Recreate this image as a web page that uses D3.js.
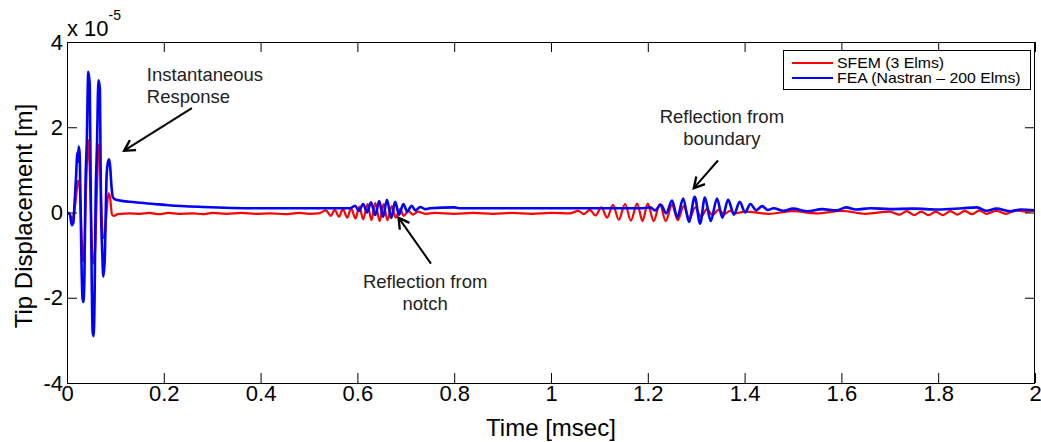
<!DOCTYPE html>
<html>
<head>
<meta charset="utf-8">
<script src="https://cdn.jsdelivr.net/npm/d3@7"></script>
<style>
  html, body { margin: 0; padding: 0; background: #fff; }
  text { font-family: Arial, "Liberation Sans", sans-serif; }
</style>
</head>
<body>
<div id="chart"></div>
<script>
// Tip displacement (units of 1e-5 m) vs time (msec)

// SFEM (3 Elms) - red
const sfemPoints = [
  [0, 0], [0.006, -0.05], [0.011, -0.15], [0.016, 0.1], [0.020, 0.5], [0.023, 0.75], [0.026, 0.6],
  [0.030, -0.5], [0.033, -1.15], [0.036, -0.8], [0.040, 0.8], [0.044, 1.7], [0.047, 1.0],
  [0.051, -0.6], [0.054, -1.2], [0.058, -0.9], [0.062, 0.6], [0.066, 1.6], [0.069, 1.0],
  [0.072, -0.2], [0.075, -0.6], [0.078, -0.55], [0.081, -0.1], [0.086, 0.45], [0.089, 0.35],
  [0.093, -0.05], [0.097, -0.08], [0.105, -0.04], [0.13, -0.02], [0.15, -0.03], [0.17, -0.01],
  [0.19, -0.04], [0.21, -0.01], [0.23, -0.03], [0.26, -0.02], [0.28, -0.04], [0.30, -0.01],
  [0.33, -0.03], [0.36, -0.01], [0.39, -0.03], [0.42, -0.02], [0.45, -0.04], [0.48, -0.01],
  [0.50, -0.03], [0.52, -0.02],
  // reflection from notch
  [0.535, 0.05], [0.545, -0.08], [0.553, 0.06], [0.562, -0.1], [0.570, 0.08], [0.579, -0.12],
  [0.587, 0.1], [0.596, -0.14], [0.604, 0.14], [0.612, -0.16], [0.621, 0.2], [0.629, -0.18],
  [0.637, 0.22], [0.646, -0.2], [0.654, 0.2], [0.662, -0.18], [0.671, 0.15], [0.679, -0.12],
  [0.688, 0.08], [0.696, -0.08], [0.705, 0.04], [0.715, -0.05], [0.725, 0.02], [0.74, -0.03],
  [0.76, -0.01], [0.80, -0.03], [0.84, -0.01], [0.88, -0.03], [0.92, -0.01], [0.96, -0.03],
  [1.00, -0.01], [1.04, -0.02],
  // reflection from boundary
  [1.056, 0.04], [1.068, -0.04], [1.080, 0.06], [1.092, -0.07], [1.104, 0.12], [1.116, -0.12],
  [1.128, 0.18], [1.140, -0.17], [1.153, 0.2], [1.165, -0.19], [1.178, 0.21], [1.189, -0.2],
  [1.200, 0.21], [1.212, -0.2], [1.225, 0.2], [1.237, -0.2], [1.250, 0.18], [1.262, -0.18],
  [1.274, 0.15], [1.286, -0.14], [1.298, 0.12], [1.310, -0.1], [1.322, 0.08], [1.334, -0.06],
  [1.346, 0.06], [1.358, -0.04], [1.37, 0.04], [1.38, -0.02],
  // tail
  [1.40, 0.02], [1.45, -0.03], [1.50, 0.03], [1.55, -0.02], [1.60, 0.04], [1.65, -0.03],
  [1.70, 0.02], [1.72, -0.05], [1.735, 0.03], [1.75, -0.06], [1.765, 0.02], [1.78, -0.06],
  [1.795, 0.02], [1.81, -0.06], [1.825, 0.03], [1.84, -0.05], [1.855, 0.04], [1.87, -0.04],
  [1.885, 0.05], [1.90, -0.03], [1.92, 0.04], [1.94, -0.03], [1.96, 0.05], [1.98, 0.02], [2.0, 0.05]
];

// FEA (Nastran - 200 Elms) - blue
const feaPoints = [
  [0, 0], [0.006, -0.05], [0.010, -0.3], [0.013, -0.25], [0.016, 0.3], [0.019, 0.9], [0.021, 1.4],
  [0.023, 1.2], [0.024, 1.55], [0.026, 1.4], [0.028, 0.2], [0.030, -1.2], [0.032, -2.0],
  [0.034, -2.1], [0.036, -1.5], [0.038, 0.5], [0.041, 1.7], [0.044, 3.3], [0.047, 3.0],
  [0.049, 0.5], [0.051, -1.5], [0.053, -2.8], [0.055, -2.9], [0.057, -2.0], [0.059, 0.2],
  [0.062, 1.6], [0.065, 3.1], [0.068, 2.9], [0.070, 0.3], [0.073, -1.0], [0.075, -1.5],
  [0.078, -1.1], [0.080, 0.0], [0.082, 0.9], [0.085, 1.2], [0.087, 1.25], [0.089, 1.1],
  [0.092, 0.6], [0.095, 0.35], [0.101, 0.3], [0.14, 0.24], [0.18, 0.2], [0.21, 0.17],
  [0.28, 0.13], [0.39, 0.1], [0.585, 0.1],
  // reflection from notch
  [0.595, 0.16], [0.603, 0.04], [0.612, 0.2], [0.620, 0.0], [0.628, 0.24], [0.637, -0.06],
  [0.645, 0.27], [0.653, -0.1], [0.661, 0.3], [0.670, -0.13], [0.678, 0.25], [0.686, -0.05],
  [0.695, 0.2], [0.703, 0.02], [0.712, 0.16], [0.720, 0.05], [0.730, 0.13], [0.740, 0.08],
  [0.75, 0.1], [0.80, 0.12], [0.81, 0.1], [1.19, 0.1],
  // reflection from boundary
  [1.205, 0.12], [1.215, 0.05], [1.227, 0.18], [1.238, -0.02], [1.250, 0.28], [1.261, -0.12],
  [1.273, 0.33], [1.285, -0.22], [1.297, 0.37], [1.308, -0.26], [1.318, 0.35], [1.330, -0.2],
  [1.343, 0.33], [1.354, -0.12], [1.366, 0.3], [1.378, -0.05], [1.390, 0.25], [1.401, 0.0],
  [1.412, 0.2], [1.424, 0.05], [1.436, 0.15], [1.448, 0.06], [1.46, 0.1],
  // tail
  [1.48, 0.04], [1.50, 0.09], [1.53, 0.03], [1.56, 0.08], [1.59, 0.05], [1.61, 0.12],
  [1.63, 0.07], [1.66, 0.1], [1.70, 0.08], [1.75, 0.09], [1.80, 0.07], [1.85, 0.1],
  [1.88, 0.12], [1.90, 0.04], [1.92, 0.09], [1.95, 0.03], [1.97, 0.07], [2.0, 0.05]
];

const xTicks = [0, 0.2, 0.4, 0.6, 0.8, 1, 1.2, 1.4, 1.6, 1.8, 2];
const yTicks = [-4, -2, 0, 2, 4];
const seriesNames = ["SFEM (3 Elms)", "FEA (Nastran \u2013 200 Elms)"];
const seriesColors = ["#ff0000", "#0000ff"];

// annotations: text anchor and arrow tail/head in data units
const annotations = [
  { lines: ["Instantaneous", "Response"], at: [0.165, 3.08], anchor: "start",
    from: [0.258, 2.45], to: [0.118, 1.45] },
  { lines: ["Reflection from", "boundary"], at: [1.353, 2.1], anchor: "middle",
    from: [1.345, 1.22], to: [1.295, 0.57] },
  { lines: ["Reflection from", "notch"], at: [0.74, -1.76], anchor: "middle",
    from: [0.752, -1.2], to: [0.685, -0.12] }
];

const width = 1041, height = 442;
const margin = {top: 42, right: 6, bottom: 59, left: 67};

const svg = d3.select("#chart")
  .append("svg")
  .attr("width", width)
  .attr("height", height);

const xScale = d3.scaleLinear()
  .domain([0, 2])
  .range([margin.left, width - margin.right]);

const yScale = d3.scaleLinear()
  .domain([-4, 4])
  .range([height - margin.bottom, margin.top]);

const x0 = xScale.range()[0], x1 = xScale.range()[1];
const y0 = yScale.range()[0], y1 = yScale.range()[1];

// arrow head (open chevron)
svg.append("defs").append("marker")
  .attr("id", "chev")
  .attr("viewBox", "-10 -6 12 12")
  .attr("refX", 0)
  .attr("refY", 0)
  .attr("markerUnits", "userSpaceOnUse")
  .attr("markerWidth", 14)
  .attr("markerHeight", 14)
  .attr("orient", "auto")
  .append("path")
  .attr("d", "M-9,-5 L0,0 L-9,5")
  .attr("fill", "none")
  .attr("stroke", "#000")
  .attr("stroke-width", 2);

svg.append("clipPath").attr("id", "plotClip")
  .append("rect")
  .attr("x", x0).attr("y", y1)
  .attr("width", x1 - x0).attr("height", y0 - y1);

// series (smoothed between the read-off extremes)
const line = d3.line()
  .x(d => xScale(d[0]))
  .y(d => yScale(d[1]))
  .curve(d3.curveMonotoneX);

const plot = svg.append("g").attr("clip-path", "url(#plotClip)");
[sfemPoints, feaPoints].forEach((pts, i) => {
  plot.append("path")
    .datum(pts)
    .attr("d", line)
    .attr("fill", "none")
    .attr("stroke", seriesColors[i])
    .attr("stroke-width", i === 0 ? 2.2 : 2.6);
});

// axes, ticks inside like matlab
const tickLen = 10;
const fmt = d => String(d);   // plain hyphen minus, as in the figure
const axisFont = g => g.selectAll("text")
  .attr("font-size", "22px").attr("fill", "#000")
  .attr("font-family", "Arial, 'Liberation Sans', sans-serif");

svg.append("g")
  .attr("transform", `translate(0,${y0})`)
  .call(d3.axisBottom(xScale).tickValues(xTicks).tickSize(-tickLen).tickSizeOuter(0).tickFormat(fmt))
  .call(g => g.select(".domain").remove())
  .call(g => g.selectAll("text").attr("dy", "0.2em").attr("y", 14))
  .call(axisFont);

svg.append("g")
  .attr("transform", `translate(0,${y1})`)
  .call(d3.axisTop(xScale).tickValues(xTicks).tickSize(-tickLen).tickSizeOuter(0).tickFormat(""))
  .call(g => g.select(".domain").remove());

svg.append("g")
  .attr("transform", `translate(${x0},0)`)
  .call(d3.axisLeft(yScale).tickValues(yTicks).tickSize(-tickLen).tickSizeOuter(0).tickFormat(fmt))
  .call(g => g.select(".domain").remove())
  .call(g => g.selectAll("text").attr("x", -4))
  .call(axisFont);

svg.append("g")
  .attr("transform", `translate(${x1},0)`)
  .call(d3.axisRight(yScale).tickValues(yTicks).tickSize(-tickLen).tickSizeOuter(0).tickFormat(""))
  .call(g => g.select(".domain").remove());

svg.selectAll(".tick line").attr("stroke", "#000").attr("stroke-width", 1);

// frame
svg.append("rect")
  .attr("x", x0 + 0.5).attr("y", y1 + 0.5)
  .attr("width", x1 - x0 - 1).attr("height", y0 - y1)
  .attr("fill", "none")
  .attr("stroke", "#000")
  .attr("stroke-width", 1);

// exponent label
const expo = svg.append("text")
  .attr("x", x0)
  .attr("y", 36)
  .attr("font-size", "22px")
  .attr("fill", "#000");
expo.append("tspan").text("x 10");
expo.append("tspan").attr("font-size", "14px").attr("dy", -16).text("-5");

// axis titles
svg.append("text")
  .attr("x", (x0 + x1) / 2)
  .attr("y", 436)
  .attr("text-anchor", "middle")
  .attr("font-size", "24px")
  .text("Time [msec]");

svg.append("text")
  .attr("transform", `translate(32,216) rotate(-90)`)
  .attr("text-anchor", "middle")
  .attr("font-size", "24px")
  .text("Tip Displacement [m]");

// annotations
annotations.forEach(a => {
  const t = svg.append("text")
    .attr("x", xScale(a.at[0]))
    .attr("y", yScale(a.at[1]))
    .attr("text-anchor", a.anchor)
    .attr("font-size", "18.5px")
    .attr("fill", "#222");
  a.lines.forEach((s, i) => {
    t.append("tspan")
      .attr("x", xScale(a.at[0]))
      .attr("dy", i === 0 ? 0 : 22)
      .text(s);
  });
  svg.append("line")
    .attr("x1", xScale(a.from[0])).attr("y1", yScale(a.from[1]))
    .attr("x2", xScale(a.to[0])).attr("y2", yScale(a.to[1]))
    .attr("stroke", "#000")
    .attr("stroke-width", 2)
    .attr("marker-end", "url(#chev)");
});

// legend
const legend = svg.append("g").attr("transform", "translate(783,50)");
legend.append("rect")
  .attr("x", 0.5).attr("y", 0.5)
  .attr("width", 247).attr("height", 39)
  .attr("fill", "#fff")
  .attr("stroke", "#000")
  .attr("stroke-width", 1);
seriesNames.forEach((name, i) => {
  const ly = 13 + i * 15;
  legend.append("line")
    .attr("x1", 9).attr("x2", 50)
    .attr("y1", ly).attr("y2", ly)
    .attr("stroke", seriesColors[i])
    .attr("stroke-width", 2);
  const lt = legend.append("text")
    .attr("x", 54)
    .attr("y", ly + 5)
    .attr("font-size", "14.5px")
    .text(name);
  // the legend text in the figure is a bit wider than plain Arial
  const w = lt.node().getComputedTextLength();
  lt.attr("textLength", w * 1.09).attr("lengthAdjust", "spacingAndGlyphs");
});
</script>
</body>
</html>
